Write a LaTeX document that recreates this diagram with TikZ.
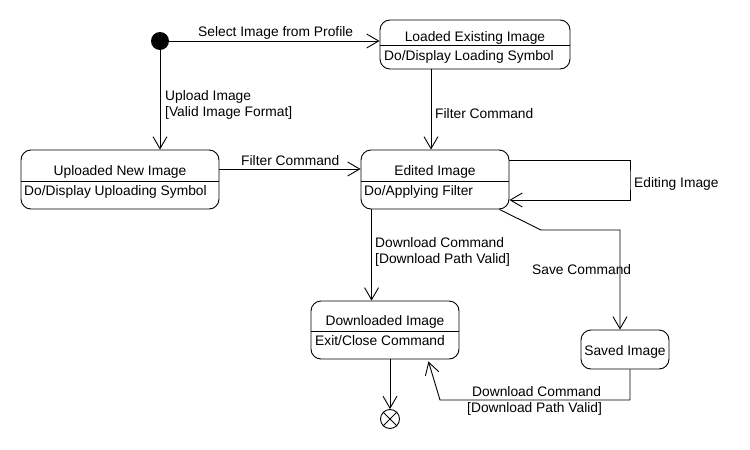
\documentclass[tikz,border=0pt]{standalone}
\usepackage{fontspec}
\setmainfont{Liberation Sans}
\usetikzlibrary{arrows.meta,calc}
\begin{document}
\begin{tikzpicture}[x=1pt,y=-1pt,
  every node/.style={font=\fontsize{13.8}{16}\selectfont},
  statebox/.style={draw, line width=0.9pt, rounded corners=10pt, inner sep=0pt},
  tr/.style={draw, line width=0.9pt, -{Straight Barb[length=12pt,width=14pt,line width=0.9pt]}},
  lbl/.style={anchor=base west, inner sep=0pt},
  ttl/.style={anchor=base, inner sep=0pt},
  divl/.style={line width=0.9pt}]
\useasboundingbox[fill=white] (0,0) rectangle (750,450);

% states
\node[circle, fill=black, minimum size=18pt, inner sep=0pt] (init) at (160,41) {};
\node[statebox, minimum width=190pt, minimum height=49pt] (loaded) at (475,44.5) {};
\node[statebox, minimum width=198pt, minimum height=59pt] (uploaded) at (120,179.5) {};
\node[statebox, minimum width=148pt, minimum height=59pt] (edited) at (435,179.5) {};
\node[statebox, minimum width=148pt, minimum height=58pt] (downloaded) at (385,330) {};
\node[statebox, minimum width=88pt, minimum height=39pt] (saved) at (625,349.5) {};
\node[draw, circle, line width=0.9pt, minimum size=19pt, inner sep=0pt] (final) at (390,419) {};
\draw[line width=0.9pt] (final.45) -- (final.225) (final.135) -- (final.315);

% dividers
\draw[divl] (loaded.west |- 0,45) -- (loaded.east |- 0,45);
\draw[divl] (uploaded.west |- 0,181) -- (uploaded.east |- 0,181);
\draw[divl] (edited.west |- 0,181) -- (edited.east |- 0,181);
\draw[divl] (downloaded.west |- 0,331) -- (downloaded.east |- 0,331);

% state texts
\node[ttl] (t1) at (475,41) {Loaded Existing Image};
\node[lbl] (b1) at (384,60) {Do/Display Loading Symbol};
\node[ttl] (t2) at (120,175) {Uploaded New Image};
\node[lbl] (b2) at (24,195) {Do/Display Uploading Symbol};
\node[ttl] (t3) at (435,175) {Edited Image};
\node[lbl] (b3) at (364,195) {Do/Applying Filter};
\node[ttl] (t4) at (385,325) {Downloaded Image};
\node[lbl] (b4) at (315,345) {Exit/Close Command};
\node[ttl] (t5) at (625,355) {Saved Image};

% coordinates for bends
\coordinate (loopR) at (630,180);
\coordinate (bend1) at (541,230);
\coordinate (bend2) at (440,400);

% transitions
\draw[tr] (init.east) -- (init.east -| loaded.west);
\draw[tr] (init.south) -- (init |- uploaded.north);
\draw[tr] ([xshift=-44pt]loaded.south) -- ([xshift=-44pt]loaded.south |- edited.north);
\draw[tr] ([yshift=10.5pt]uploaded.east) -- ([yshift=10.5pt]uploaded.east -| edited.west);
\draw[tr] ([yshift=19.5pt]edited.east) -| (loopR) |- ([yshift=-20.5pt]edited.east);
\draw[tr] ([xshift=11pt]edited.south west) -- ([xshift=11pt]edited.south west |- downloaded.north);
\draw[tr] ([xshift=-10pt]edited.south east) -- (bend1) -| ([xshift=-5pt]saved.north);
\draw[tr] ([xshift=5pt]saved.south) |- (bend2) -- ([xshift=-31pt,yshift=-2pt]downloaded.south east);
\draw[tr] (final |- downloaded.south) -- (final.north);

% transition labels
\node[lbl] (l1) at (198,36) {Select Image from Profile};
\node[lbl] (l2) at (165,100) {Upload Image};
\node[lbl] (l3) at (165,116) {[Valid Image Format]};
\node[lbl] (l4) at (435,118) {Filter Command};
\node[lbl] (l5) at (241,165) {Filter Command};
\node[lbl] (l6) at (634,187) {Editing Image};
\node[lbl] (l7) at (375,247) {Download Command};
\node[lbl] (l8) at (375,263) {[Download Path Valid]};
\node[lbl] (l9) at (532,274) {Save Command};
\node[lbl] (l10) at (472,396) {Download Command};
\node[lbl] (l11) at (467,412) {[Download Path Valid]};
\end{tikzpicture}
\end{document}
